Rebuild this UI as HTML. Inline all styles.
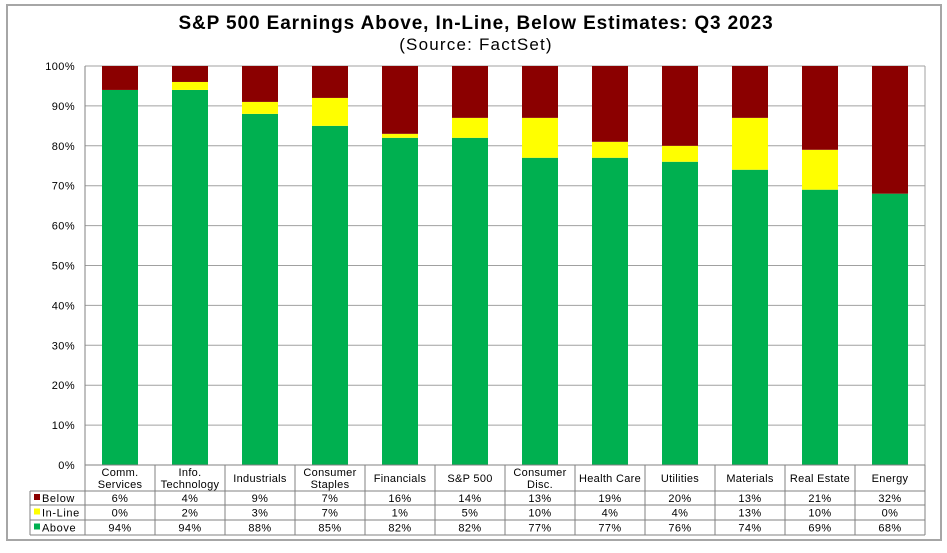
<!DOCTYPE html>
<html><head><meta charset="utf-8"><style>
body{margin:0;background:#fff;font-family:"Liberation Sans",Arial,sans-serif;}
svg text{font-family:"Liberation Sans",Arial,sans-serif;}
</style></head><body>
<svg width="947" height="548" viewBox="0 0 947 548" xmlns="http://www.w3.org/2000/svg">
<rect x="7" y="5" width="934" height="535" fill="#fff" stroke="#a6a6a6" stroke-width="2"/>
<text x="476" y="29" text-anchor="middle" font-size="19" font-weight="bold" letter-spacing="0.9">S&amp;P 500 Earnings Above, In-Line, Below Estimates: Q3 2023</text>
<text x="476" y="50" text-anchor="middle" font-size="17" letter-spacing="1.2">(Source: FactSet)</text>
<g id="grid"></g><g id="bars"></g><g id="table"></g>
</svg>
<script>
const categories=[["Comm.","Services"],["Info.","Technology"],["Industrials"],["Consumer","Staples"],["Financials"],["S&P 500"],["Consumer","Disc."],["Health Care"],["Utilities"],["Materials"],["Real Estate"],["Energy"]];
const below=[6,4,9,7,16,14,13,19,20,13,21,32];
const inline=[0,2,3,7,1,5,10,4,4,13,10,0];
const above=[94,94,88,85,82,82,77,77,76,74,69,68];
const yTicks=[0,10,20,30,40,50,60,70,80,90,100];
const NS="http://www.w3.org/2000/svg";
const L=85,R=925,T=66,B=465,n=categories.length,cw=(R-L)/n,bw=36;
const y=v=>B-(v/100)*(B-T);
const x=i=>L+i*cw;
function mk(tag,attrs,parent,txt){const e=document.createElementNS(NS,tag);for(const k in attrs)e.setAttribute(k,attrs[k]);if(txt!==undefined)e.textContent=txt;document.getElementById(parent).appendChild(e);return e;}
yTicks.forEach(t=>{
 const g=mk('line',{x1:L,x2:R,y1:y(t),y2:y(t),stroke:t===0?'#808080':'#a0a0a0','stroke-width':1},'grid');
 
 
 const lb=mk('text',{x:75,y:y(t)+4,'text-anchor':'end','font-size':11,'letter-spacing':0.4},'grid',t+'%');
 
 
});
const ax=mk('line',{x1:L,x2:L,y1:T,y2:B,stroke:'#808080'},'grid');


const ar=mk('line',{x1:R,x2:R,y1:T,y2:B,stroke:'#a0a0a0'},'grid');


categories.forEach((c,i)=>{
 const bx=x(i)+(cw-bw)/2;
 const a=above[i],m=inline[i],b=below[i];
 const r1=mk('rect',{x:bx,y:y(a),width:bw,height:y(0)-y(a),fill:'#00b050'},'bars');
 
 
 const r2=mk('rect',{x:bx,y:y(a+m),width:bw,height:y(a)-y(a+m),fill:'#ffff00'},'bars');
 
 
 const r3=mk('rect',{x:bx,y:y(100),width:bw,height:y(a+m)-y(100),fill:'#8b0000'},'bars');
 
 
});
const rows=[{n:'Below',c:'#8b0000',d:below,y0:491,y1:505},{n:'In-Line',c:'#ffff00',d:inline,y0:505,y1:520},{n:'Above',c:'#00b050',d:above,y0:520,y1:535}];
const st={stroke:'#808080','stroke-width':1};
[[L,465,R,465],[30,491,R,491],[30,505,R,505],[30,520,R,520],[30,535,R,535],[30,491,30,535]].forEach(p=>{
 const l=mk('line',Object.assign({x1:p[0],y1:p[1],x2:p[2],y2:p[3]},st),'table');
 
 
});
for(let i=0;i<=n;i++){
 const l=mk('line',Object.assign({x1:x(i),y1:465,x2:x(i),y2:535},st),'table');
 
 
}
categories.forEach((c,i)=>{
 const cx=x(i)+cw/2;
 c.forEach((s,j)=>{
  const yy=c.length===1?482:476+j*12;
  const t=mk('text',{x:cx,y:yy,'text-anchor':'middle','font-size':11,'letter-spacing':0.3},'table',s);
  
  
 });
});
rows.forEach(r=>{
 const ym=(r.y0+r.y1)/2+4;
 const k=mk('rect',{x:34,y:ym-8,width:6,height:6,fill:r.c},'table');
 
 
 const t=mk('text',{x:42,y:ym,'font-size':11,'letter-spacing':0.6},'table',r.n);
 
 
 r.d.forEach((v,i)=>{
  const tv=mk('text',{x:x(i)+cw/2,y:ym,'text-anchor':'middle','font-size':11,'letter-spacing':0.4},'table',v+'%');
  
  
 });
});
</script>
</body></html>
